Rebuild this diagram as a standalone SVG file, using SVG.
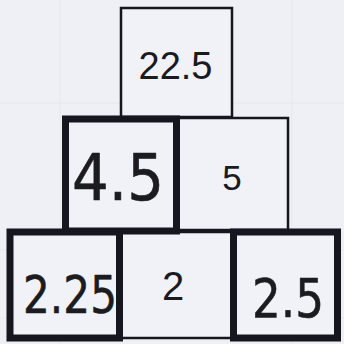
<svg xmlns="http://www.w3.org/2000/svg" width="344" height="344" viewBox="0 0 344 344">
<style>
.bg{fill:#eff0f5}
.grid{stroke:#e5e7ec;stroke-width:1;fill:none}
.thin{fill:#f1f2f7;stroke:#16161f;stroke-width:2.5}
.thick{fill:#f1f2f7;stroke:#16161f;stroke-width:7}
.print{font-family:"Liberation Sans",Arial,sans-serif;fill:#1a1a1f;text-anchor:middle}
.hand{font-family:"DejaVu Sans","Liberation Sans",sans-serif;fill:#1c1c20;stroke:#1c1c20;stroke-width:0.6;stroke-linejoin:round;text-anchor:middle}
</style>
<rect class="bg" x="0" y="0" width="344" height="344"/>
<g id="grid">
<line class="grid" x1="0" y1="103" x2="344" y2="103"/>
<line class="grid" x1="0" y1="250" x2="344" y2="250"/>
<line class="grid" x1="0" y1="318" x2="344" y2="318"/>
<line class="grid" x1="60" y1="0" x2="60" y2="344"/>
<line class="grid" x1="292" y1="0" x2="292" y2="344"/>
</g>
<g id="connectors"></g>
<g id="n-top">
<rect class="thin" x="121" y="8" width="111" height="109"/>
<text class="print" x="175.5" y="79" font-size="38">22.5</text>
</g>
<g id="n-mid-right">
<rect class="thin" x="176" y="118" width="112" height="112"/>
<text class="print" x="232" y="190" font-size="35">5</text>
</g>
<g id="n-bot-mid">
<rect class="thin" x="120" y="232" width="113" height="106"/>
<text class="print" x="173" y="300" font-size="40">2</text>
</g>
<g id="n-mid-left">
<rect class="thick" x="65.5" y="119" width="111" height="112"/>
<text class="hand" x="118" y="200" font-size="64" textLength="92" lengthAdjust="spacingAndGlyphs">4.5</text>
</g>
<g id="n-bot-left">
<rect class="thick" x="10" y="232" width="109.5" height="106"/>
<text class="hand" x="70" y="313" font-size="52" textLength="94" lengthAdjust="spacingAndGlyphs">2.25</text>
</g>
<g id="n-bot-right">
<rect class="thick" x="233.5" y="232" width="104" height="106"/>
<text class="hand" x="288" y="317" font-size="54" textLength="72" lengthAdjust="spacingAndGlyphs">2.5</text>
</g>
</svg>
